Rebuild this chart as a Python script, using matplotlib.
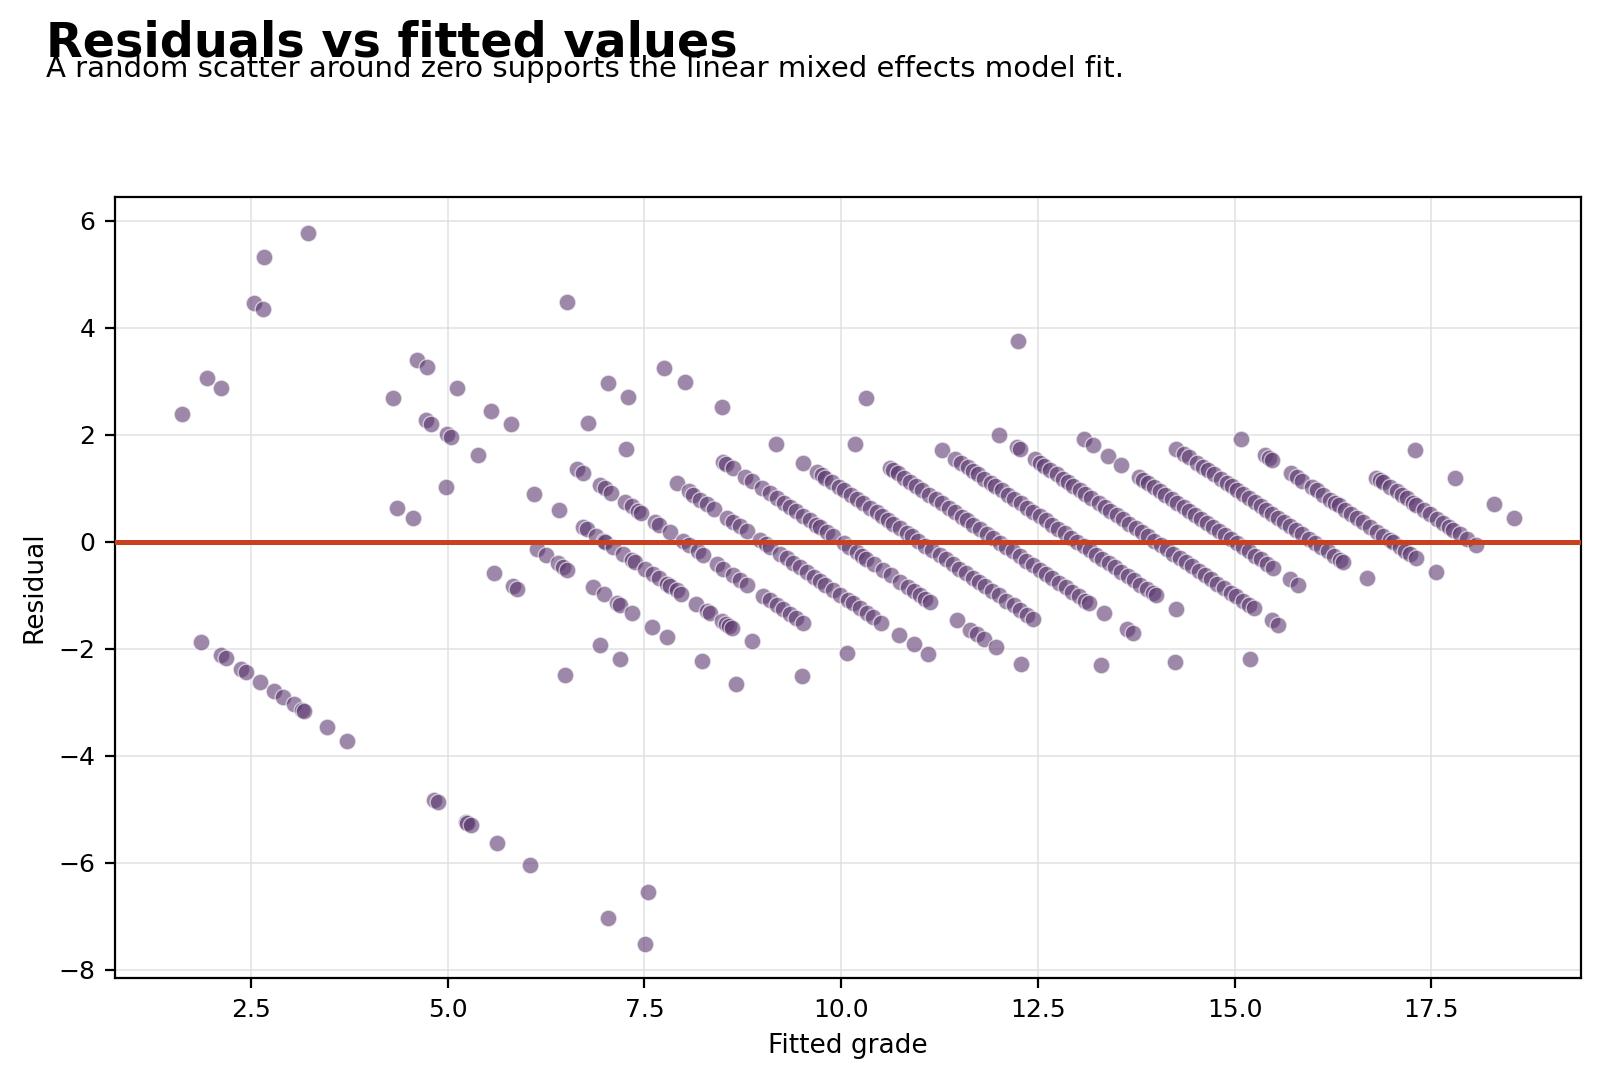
import numpy as np
import matplotlib
matplotlib.use("Agg")
import matplotlib.pyplot as plt

# fitted grade / residual pairs, grouped by observed grade (diagonal bands)
fit_g0 = [1.87, 2.12, 2.18, 2.37, 2.44, 2.62, 2.79, 2.91, 3.04, 3.15, 3.17, 3.47, 3.72,
          4.82, 4.87, 5.23, 5.25, 5.30, 5.63, 6.05, 7.03, 7.51]
res_g0 = [-1.87, -2.12, -2.18, -2.37, -2.44, -2.62, -2.79, -2.91, -3.04, -3.15, -3.17, -3.47, -3.72,
          -4.82, -4.87, -5.23, -5.25, -5.30, -5.63, -6.05, -7.03, -7.51]

fit_g1 = [7.55]
res_g1 = [-6.55]

fit_g4 = [1.62, 6.49]
res_g4 = [2.38, -2.49]

fit_g5 = [1.94, 2.12, 4.36, 4.56, 5.59, 5.83, 5.88, 6.93, 7.19]
res_g5 = [3.06, 2.88, 0.64, 0.44, -0.59, -0.83, -0.88, -1.93, -2.19]

fit_g6 = [4.98, 6.14, 6.25, 6.40, 6.47, 6.52, 6.84, 6.98, 7.15, 7.19, 7.34, 7.59, 7.78, 8.23, 8.66]
res_g6 = [1.02, -0.14, -0.25, -0.40, -0.47, -0.52, -0.84, -0.98, -1.15, -1.19, -1.34, -1.59, -1.78,
          -2.23, -2.66]

fit_g7 = [2.54, 2.65, 4.31, 4.72, 4.79, 4.99, 5.04, 5.38, 6.10, 6.41, 6.72, 6.77, 6.89, 6.98, 7.00,
          7.10, 7.23, 7.34, 7.38, 7.51, 7.61, 7.68, 7.78, 7.83, 7.91, 7.97, 8.16, 8.29, 8.33, 8.48,
          8.54, 8.58, 8.61, 8.86, 9.50]
res_g7 = [4.46, 4.35, 2.69, 2.28, 2.21, 2.01, 1.96, 1.62, 0.90, 0.59, 0.28, 0.23, 0.11, 0.02, 0.00,
          -0.10, -0.23, -0.34, -0.38, -0.51, -0.61, -0.68, -0.78, -0.83, -0.91, -0.97, -1.16, -1.29,
          -1.33, -1.48, -1.54, -1.58, -1.61, -1.86, -2.50]

fit_g8 = [2.67, 4.61, 4.73, 5.12, 5.55, 5.80, 6.64, 6.72, 6.93, 7.00, 7.08, 7.25, 7.34, 7.42, 7.46,
          7.63, 7.68, 7.82, 7.99, 8.06, 8.18, 8.24, 8.42, 8.50, 8.63, 8.71, 8.80, 9.01, 9.09, 9.18,
          9.26, 9.35, 9.43, 9.51, 10.07]
res_g8 = [5.33, 3.39, 3.27, 2.88, 2.45, 2.20, 1.36, 1.28, 1.07, 1.00, 0.92, 0.75, 0.66, 0.58, 0.54,
          0.37, 0.32, 0.18, 0.01, -0.06, -0.18, -0.24, -0.42, -0.50, -0.63, -0.71, -0.80, -1.01,
          -1.09, -1.18, -1.26, -1.35, -1.43, -1.51, -2.07]

fit_g9 = [3.22, 6.78, 7.27, 7.91, 8.06, 8.12, 8.21, 8.29, 8.38, 8.55, 8.63, 8.71, 8.80, 8.97, 9.05,
          9.09, 9.22, 9.31, 9.39, 9.48, 9.56, 9.65, 9.73, 9.80, 9.90, 9.99, 10.08, 10.15, 10.24,
          10.33, 10.41, 10.51, 10.74, 10.92, 11.10]
res_g9 = [5.78, 2.22, 1.73, 1.09, 0.94, 0.88, 0.79, 0.71, 0.62, 0.45, 0.37, 0.29, 0.20, 0.03, -0.05,
          -0.09, -0.22, -0.31, -0.39, -0.48, -0.56, -0.65, -0.73, -0.80, -0.90, -0.99, -1.08, -1.15,
          -1.24, -1.33, -1.41, -1.51, -1.74, -1.92, -2.10]

fit_g10 = [7.03, 7.29, 8.50, 8.54, 8.63, 8.78, 8.86, 8.99, 9.09, 9.18, 9.27, 9.35, 9.43, 9.52, 9.60,
           9.68, 9.73, 9.82, 9.90, 10.03, 10.10, 10.20, 10.26, 10.32, 10.42, 10.53, 10.63, 10.75,
           10.85, 10.92, 11.00, 11.07, 11.13, 11.47, 11.64, 11.72, 11.81, 11.97, 12.28]
res_g10 = [2.97, 2.71, 1.50, 1.46, 1.37, 1.22, 1.14, 1.01, 0.91, 0.82, 0.73, 0.65, 0.57, 0.48, 0.40,
           0.32, 0.27, 0.18, 0.10, -0.03, -0.10, -0.20, -0.26, -0.32, -0.42, -0.53, -0.63, -0.75,
           -0.85, -0.92, -1.00, -1.07, -1.13, -1.47, -1.64, -1.72, -1.81, -1.97, -2.28]

fit_g11 = [6.52, 7.75, 8.01, 8.48, 9.17, 9.52, 9.69, 9.75, 9.80, 9.88, 9.97, 10.04, 10.12, 10.20,
           10.28, 10.36, 10.45, 10.52, 10.60, 10.66, 10.75, 10.83, 10.90, 10.98, 11.07, 11.15, 11.25,
           11.33, 11.42, 11.50, 11.58, 11.67, 11.75, 11.83, 11.92, 12.00, 12.10, 12.19, 12.27, 12.36,
           12.44, 13.30]
res_g11 = [4.48, 3.25, 2.99, 2.52, 1.83, 1.48, 1.31, 1.25, 1.20, 1.12, 1.03, 0.96, 0.88, 0.80, 0.72,
           0.64, 0.55, 0.48, 0.40, 0.34, 0.25, 0.17, 0.10, 0.02, -0.07, -0.15, -0.25, -0.33, -0.42,
           -0.50, -0.58, -0.67, -0.75, -0.83, -0.92, -1.00, -1.10, -1.19, -1.27, -1.36, -1.44, -2.30]

fit_g12 = [10.17, 10.62, 10.66, 10.72, 10.80, 10.88, 10.95, 11.03, 11.12, 11.20, 11.28, 11.37, 11.45,
           11.53, 11.60, 11.68, 11.76, 11.85, 11.93, 12.02, 12.10, 12.18, 12.27, 12.35, 12.44, 12.52,
           12.60, 12.68, 12.77, 12.85, 12.93, 13.02, 13.10, 13.15, 13.34, 13.63, 13.71, 14.24]
res_g12 = [1.83, 1.38, 1.34, 1.28, 1.20, 1.12, 1.05, 0.97, 0.88, 0.80, 0.72, 0.63, 0.55, 0.47, 0.40,
           0.32, 0.24, 0.15, 0.07, -0.02, -0.10, -0.18, -0.27, -0.35, -0.44, -0.52, -0.60, -0.68,
           -0.77, -0.85, -0.93, -1.02, -1.10, -1.15, -1.34, -1.63, -1.71, -2.24]

fit_g13 = [10.32, 11.28, 11.45, 11.52, 11.61, 11.68, 11.74, 11.82, 11.90, 11.96, 12.04, 12.12, 12.20,
           12.28, 12.36, 12.44, 12.52, 12.60, 12.68, 12.76, 12.84, 12.92, 13.00, 13.08, 13.16, 13.24,
           13.32, 13.40, 13.48, 13.56, 13.64, 13.72, 13.80, 13.88, 13.96, 14.00, 14.25, 15.19]
res_g13 = [2.68, 1.72, 1.55, 1.48, 1.39, 1.32, 1.26, 1.18, 1.10, 1.04, 0.96, 0.88, 0.80, 0.72, 0.64,
           0.56, 0.48, 0.40, 0.32, 0.24, 0.16, 0.08, 0.00, -0.08, -0.16, -0.24, -0.32, -0.40, -0.48,
           -0.56, -0.64, -0.72, -0.80, -0.88, -0.96, -1.00, -1.25, -2.19]

fit_g14 = [12.01, 12.23, 12.27, 12.46, 12.53, 12.58, 12.65, 12.74, 12.82, 12.88, 12.95, 13.03, 13.10,
           13.18, 13.27, 13.35, 13.42, 13.50, 13.58, 13.66, 13.74, 13.82, 13.90, 13.98, 14.06, 14.14,
           14.22, 14.30, 14.38, 14.46, 14.55, 14.62, 14.70, 14.78, 14.86, 14.95, 15.02, 15.10, 15.18,
           15.24, 15.47, 15.55]
res_g14 = [1.99, 1.77, 1.73, 1.54, 1.47, 1.42, 1.35, 1.26, 1.18, 1.12, 1.05, 0.97, 0.90, 0.82, 0.73,
           0.65, 0.58, 0.50, 0.42, 0.34, 0.26, 0.18, 0.10, 0.02, -0.06, -0.14, -0.22, -0.30, -0.38,
           -0.46, -0.55, -0.62, -0.70, -0.78, -0.86, -0.95, -1.02, -1.10, -1.18, -1.24, -1.47, -1.55]

fit_g15 = [13.08, 13.20, 13.39, 13.56, 13.78, 13.84, 13.90, 13.97, 14.05, 14.12, 14.20, 14.27, 14.35,
           14.42, 14.50, 14.57, 14.65, 14.72, 14.80, 14.88, 14.95, 15.03, 15.10, 15.18, 15.26, 15.33,
           15.41, 15.49, 15.70, 15.81]
res_g15 = [1.92, 1.80, 1.61, 1.44, 1.22, 1.16, 1.10, 1.03, 0.95, 0.88, 0.80, 0.73, 0.65, 0.58, 0.50,
           0.43, 0.35, 0.28, 0.20, 0.12, 0.05, -0.03, -0.10, -0.18, -0.26, -0.33, -0.41, -0.49,
           -0.70, -0.81]

fit_g16 = [12.24, 14.26, 14.36, 14.42, 14.52, 14.60, 14.66, 14.74, 14.82, 14.90, 14.96, 15.03, 15.10,
           15.18, 15.26, 15.33, 15.40, 15.48, 15.55, 15.63, 15.70, 15.78, 15.86, 15.94, 16.02, 16.10,
           16.18, 16.26, 16.34, 16.38, 16.68]
res_g16 = [3.76, 1.74, 1.64, 1.58, 1.48, 1.40, 1.34, 1.26, 1.18, 1.10, 1.04, 0.97, 0.90, 0.82, 0.74,
           0.67, 0.60, 0.52, 0.45, 0.37, 0.30, 0.22, 0.14, 0.06, -0.02, -0.10, -0.18, -0.26, -0.34,
           -0.38, -0.68]

fit_g17 = [15.08, 15.38, 15.44, 15.47, 15.72, 15.79, 15.86, 15.98, 16.04, 16.12, 16.21, 16.28, 16.32,
           16.40, 16.48, 16.55, 16.63, 16.72, 16.81, 16.89, 16.97, 17.01, 17.10, 17.17, 17.23, 17.31,
           17.56]
res_g17 = [1.92, 1.62, 1.56, 1.53, 1.28, 1.21, 1.14, 1.02, 0.96, 0.88, 0.79, 0.72, 0.68, 0.60, 0.52,
           0.45, 0.37, 0.28, 0.19, 0.11, 0.03, -0.01, -0.10, -0.17, -0.23, -0.31, -0.56]

fit_g18 = [16.80, 16.85, 16.89, 16.97, 17.06, 17.12, 17.19, 17.27, 17.31, 17.40, 17.48, 17.57, 17.65,
           17.72, 17.78, 17.86, 17.95, 18.06]
res_g18 = [1.20, 1.15, 1.11, 1.03, 0.94, 0.88, 0.81, 0.73, 0.69, 0.60, 0.52, 0.43, 0.35, 0.28, 0.22,
           0.14, 0.05, -0.06]

fit_g19 = [17.29, 17.80, 18.30, 18.55]
res_g19 = [1.71, 1.20, 0.70, 0.45]

fitted = np.concatenate([fit_g0, fit_g1, fit_g4, fit_g5, fit_g6, fit_g7, fit_g8, fit_g9, fit_g10,
                         fit_g11, fit_g12, fit_g13, fit_g14, fit_g15, fit_g16, fit_g17, fit_g18,
                         fit_g19])
residual = np.concatenate([res_g0, res_g1, res_g4, res_g5, res_g6, res_g7, res_g8, res_g9, res_g10,
                           res_g11, res_g12, res_g13, res_g14, res_g15, res_g16, res_g17, res_g18,
                           res_g19])

fig = plt.figure(figsize=(8, 5.405), dpi=200)
ax = fig.add_axes([0.0717, 0.095, 0.9164, 0.723])

ax.scatter(fitted, residual, s=36, color="#5c3970", alpha=0.6,
           edgecolors="white", linewidths=0.5, zorder=2)
ax.axhline(0, color="#c8401e", linewidth=1.8, zorder=3)

ax.set_xlim(0.768, 19.4)
ax.set_ylim(-8.16, 6.45)
ax.set_xticks([2.5, 5.0, 7.5, 10.0, 12.5, 15.0, 17.5])
ax.set_yticks([-8, -6, -4, -2, 0, 2, 4, 6])
ax.grid(True, color="#dddddd", linewidth=0.6, alpha=0.8)
ax.set_axisbelow(True)
ax.tick_params(labelsize=9)
ax.set_xlabel("Fitted grade", fontsize=9.5)
ax.set_ylabel("Residual", fontsize=9.5)

fig.text(0.029, 0.948, "Residuals vs fitted values", fontsize=17.2, fontweight="bold",
         va="baseline", ha="left")
fig.text(0.029, 0.929, "A random scatter around zero supports the linear mixed effects model fit.",
         fontsize=10.5, va="baseline", ha="left")

fig.savefig("out.png", dpi=200)
